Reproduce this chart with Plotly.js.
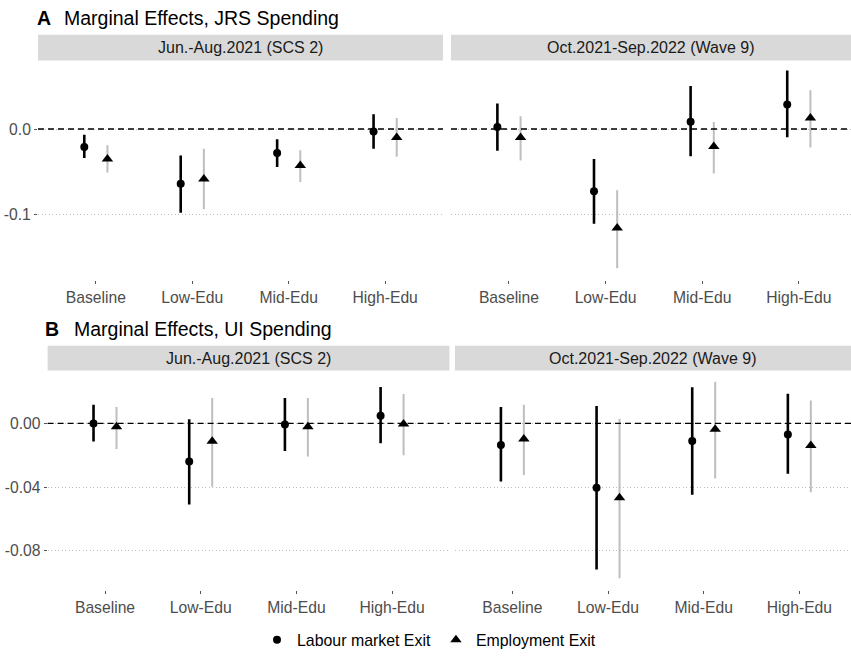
<!DOCTYPE html>
<html>
<head>
<meta charset="utf-8">
<script src="https://cdn.plot.ly/plotly-3.0.1.min.js"></script>
<style>html,body{margin:0;padding:0;background:#fff}#chart{width:851px;height:657px}</style>
</head>
<body>
<div id="chart"></div>
<script>
// ---------- data ----------
const categories = ['Baseline', 'Low-Edu', 'Mid-Edu', 'High-Edu'];
const periods = ['Jun.-Aug.2021 (SCS 2)', 'Oct.2021-Sep.2022 (Wave 9)'];
const seriesNames = ['Labour market Exit', 'Employment Exit'];
const panelTitles = ['Marginal Effects, JRS Spending', 'Marginal Effects, UI Spending'];
const panelLetters = ['A', 'B'];

// Panel A (JRS), SCS 2
const jrsScsLabour     = [-0.021, -0.064, -0.028, -0.003];
const jrsScsLabourLo   = [-0.034, -0.098, -0.0445, -0.023];
const jrsScsLabourHi   = [-0.0066, -0.031, -0.012, 0.0174];
const jrsScsEmploy     = [-0.035, -0.0585, -0.0427, -0.010];
const jrsScsEmployLo   = [-0.051, -0.094, -0.062, -0.0326];
const jrsScsEmployHi   = [-0.019, -0.023, -0.0248, 0.0128];
// Panel A (JRS), Wave 9
const jrsW9Labour      = [0.0023, -0.073, 0.0085, 0.0287];
const jrsW9LabourLo    = [-0.0256, -0.111, -0.0318, -0.0097];
const jrsW9LabourHi    = [0.030, -0.035, 0.0504, 0.0686];
const jrsW9Employ      = [-0.010, -0.116, -0.0206, 0.0128];
const jrsW9EmployLo    = [-0.037, -0.163, -0.052, -0.0217];
const jrsW9EmployHi    = [0.0148, -0.0717, 0.0081, 0.0453];
// Panel B (UI), SCS 2
const uiScsLabour      = [0.0, -0.0239, -0.0006, 0.0048];
const uiScsLabourLo    = [-0.0114, -0.0509, -0.0173, -0.0125];
const uiScsLabourHi    = [0.0118, 0.0027, 0.016, 0.0229];
const uiScsEmploy      = [-0.002, -0.0112, -0.002, -0.0003];
const uiScsEmployLo    = [-0.016, -0.0397, -0.0208, -0.020];
const uiScsEmployHi    = [0.0104, 0.016, 0.016, 0.0185];
// Panel B (UI), Wave 9
const uiW9Labour       = [-0.0135, -0.0403, -0.011, -0.0069];
const uiW9LabourLo     = [-0.0364, -0.0918, -0.0447, -0.0316];
const uiW9LabourHi     = [0.0104, 0.011, 0.0227, 0.0187];
const uiW9Employ       = [-0.0098, -0.0467, -0.0037, -0.0139];
const uiW9EmployLo     = [-0.0324, -0.0972, -0.0345, -0.0432];
const uiW9EmployHi     = [0.0118, 0.0029, 0.0262, 0.0145];

const yTickValsA = [-0.1, 0.0];
const yTickTextA = ['-0.1', '0.0'];
const yTickValsB = [-0.08, -0.04, 0.0];
const yTickTextB = ['-0.08', '-0.04', '0.00'];

// ---------- layout helpers ----------
const W = 851, H = 657;
const px = v => v / W;
const py = v => 1 - v / H;
const FONT = 'Liberation Sans, Arial, sans-serif';
const DODGE = 0.12;
const idx = categories.map((c, i) => i + 1);

const panels = [
  {xa: 'x',  ya: 'y',  lab: [jrsScsLabour, jrsScsLabourLo, jrsScsLabourHi], emp: [jrsScsEmploy, jrsScsEmployLo, jrsScsEmployHi], legend: true},
  {xa: 'x2', ya: 'y2', lab: [jrsW9Labour, jrsW9LabourLo, jrsW9LabourHi], emp: [jrsW9Employ, jrsW9EmployLo, jrsW9EmployHi]},
  {xa: 'x3', ya: 'y3', lab: [uiScsLabour, uiScsLabourLo, uiScsLabourHi], emp: [uiScsEmploy, uiScsEmployLo, uiScsEmployHi]},
  {xa: 'x4', ya: 'y4', lab: [uiW9Labour, uiW9LabourLo, uiW9LabourHi], emp: [uiW9Employ, uiW9EmployLo, uiW9EmployHi]},
];

const traces = [];
panels.forEach(p => {
  const [lv, llo, lhi] = p.lab;
  const [ev, elo, ehi] = p.emp;
  traces.push({
    type: 'scatter', mode: 'markers', xaxis: p.xa, yaxis: p.ya,
    x: idx.map(i => i - DODGE), y: lv,
    error_y: {type: 'data', symmetric: false, array: lv.map((v, i) => lhi[i] - v), arrayminus: lv.map((v, i) => v - llo[i]), width: 0, thickness: 2.6, color: '#000'},
    marker: {symbol: 'circle', size: 8, color: '#000'},
    name: seriesNames[0], legendgroup: 'lab', showlegend: !!p.legend, hoverinfo: 'skip'
  });
  traces.push({
    type: 'scatter', mode: 'markers', xaxis: p.xa, yaxis: p.ya,
    x: idx.map(i => i + DODGE), y: ev,
    error_y: {type: 'data', symmetric: false, array: ev.map((v, i) => ehi[i] - v), arrayminus: ev.map((v, i) => v - elo[i]), width: 0, thickness: 2, color: '#bebebe'},
    marker: {symbol: 'triangle-up', size: 10, color: '#000'},
    name: seriesNames[1], legendgroup: 'emp', showlegend: !!p.legend, hoverinfo: 'skip'
  });
});

function xAxis(domain, range, anchor) {
  return {
    domain: domain, range: range, anchor: anchor,
    tickvals: idx, ticktext: categories, ticks: 'outside', ticklen: 3, tickcolor: '#555', tickwidth: 1,
    showgrid: false, zeroline: false, showline: false, automargin: false,
    tickfont: {family: FONT, size: 15.7, color: '#4d4d4d'}
  };
}
function yAxis(domain, range, anchor, vals, text, showLabels) {
  return {
    domain: domain, range: range, anchor: anchor,
    tickvals: vals, ticktext: text, showticklabels: showLabels,
    ticks: showLabels ? 'outside' : '', ticklen: 3, tickcolor: '#555', tickwidth: 1,
    showgrid: true, gridcolor: '#bdbdbd', griddash: '1px,2.5px', gridwidth: 1,
    zeroline: false, showline: false, automargin: false,
    tickfont: {family: FONT, size: 15.7, color: '#4d4d4d'}
  };
}

const domA = [py(282), py(61)];
const domB = [py(595), py(373.3)];
const rangeA = [-0.1767, 0.0802];
const rangeB = [-0.1049, 0.0333];
const xdA1 = [px(38), px(443)], xdA2 = [px(451), 1];
const xdB1 = [px(47.6), px(449.5)], xdB2 = [px(455), 1];

const stripBoxes = [
  {x: xdA1, y: [py(61), py(35)], t: periods[0]},
  {x: xdA2, y: [py(61), py(35)], t: periods[1]},
  {x: xdB1, y: [py(373.3), py(348.3)], t: periods[0]},
  {x: xdB2, y: [py(373.3), py(348.3)], t: periods[1]},
];

const shapes = [];
const annotations = [];
stripBoxes.forEach(s => {
  shapes.push({type: 'rect', xref: 'paper', yref: 'paper', x0: s.x[0], x1: s.x[1], y0: s.y[0], y1: s.y[1], fillcolor: '#d9d9d9', line: {width: 0}, layer: 'below'});
  annotations.push({xref: 'paper', yref: 'paper', x: (s.x[0] + s.x[1]) / 2, y: (s.y[0] + s.y[1]) / 2, text: s.t, showarrow: false, xanchor: 'center', yanchor: 'middle', font: {family: FONT, size: 16, color: '#1a1a1a'}});
});
['x', 'x2', 'x3', 'x4'].forEach((xa, i) => {
  const ya = ['y', 'y2', 'y3', 'y4'][i];
  shapes.push({type: 'line', xref: xa + ' domain', yref: ya, x0: 0, x1: 1, y0: 0, y1: 0, line: {color: '#000', width: 1.3, dash: '6px,4px'}, layer: 'above'});
});
// panel titles
[[35, 62, 18], [43, 72, 332]].forEach((p, i) => {
  annotations.push({xref: 'paper', yref: 'paper', x: px(p[0]), y: py(p[2]), text: '<b>' + panelLetters[i] + '</b>', showarrow: false, xanchor: 'left', yanchor: 'middle', font: {family: FONT, size: 19.5, color: '#000'}});
  annotations.push({xref: 'paper', yref: 'paper', x: px(p[1]), y: py(p[2]), text: panelTitles[i], showarrow: false, xanchor: 'left', yanchor: 'middle', font: {family: FONT, size: 19.5, color: '#000'}});
});

const layout = {
  width: W, height: H,
  margin: {l: 0, r: 0, t: 0, b: 0},
  paper_bgcolor: '#fff', plot_bgcolor: '#fff',
  font: {family: FONT},
  xaxis: xAxis(xdA1, [0.4, 4.6], 'y'),
  xaxis2: xAxis(xdA2, [0.4, 4.54], 'y2'),
  xaxis3: xAxis(xdB1, [0.4, 4.6], 'y3'),
  xaxis4: xAxis(xdB2, [0.4, 4.54], 'y4'),
  yaxis: yAxis(domA, rangeA, 'x', yTickValsA, yTickTextA, true),
  yaxis2: yAxis(domA, rangeA, 'x2', yTickValsA, yTickTextA, false),
  yaxis3: yAxis(domB, rangeB, 'x3', yTickValsB, yTickTextB, true),
  yaxis4: yAxis(domB, rangeB, 'x4', yTickValsB, yTickTextB, false),
  shapes: shapes,
  annotations: annotations,
  showlegend: true,
  legend: {orientation: 'h', x: px(257), y: py(645), xanchor: 'left', yanchor: 'middle', font: {family: FONT, size: 15.9, color: '#000'}, bgcolor: 'rgba(0,0,0,0)', itemclick: false, itemdoubleclick: false}
};

Plotly.newPlot('chart', traces, layout, {staticPlot: true, displayModeBar: false});
</script>
</body>
</html>
